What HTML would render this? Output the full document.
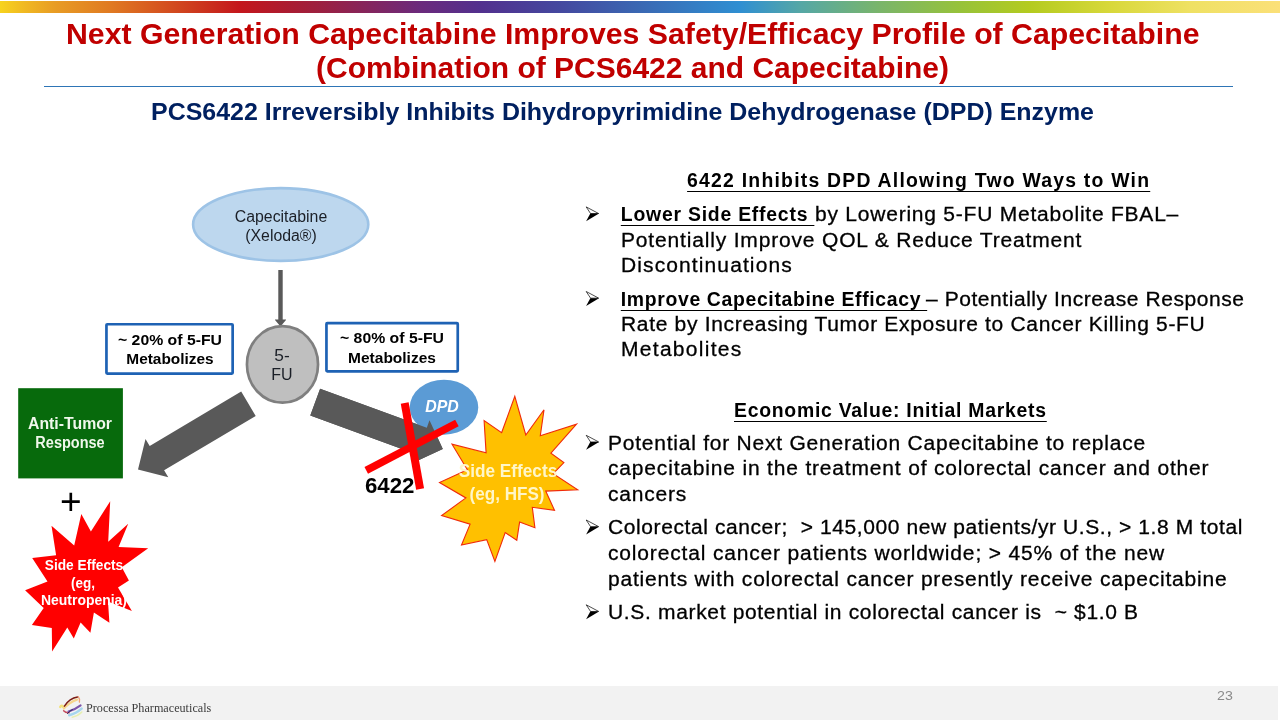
<!DOCTYPE html>
<html lang="en"><head><meta charset="utf-8"><title>Next Generation Capecitabine</title>
<style>
html,body{margin:0;padding:0;background:#fff;}
body{width:1280px;height:720px;position:relative;overflow:hidden;font-family:"Liberation Sans",sans-serif;}
.bar{position:absolute;left:0;top:0.5px;width:1280px;height:12.6px;background:linear-gradient(90deg,#f7d31e 0px,#f0b822 25px,#e89c24 55px,#e07a22 110px,#d85c20 150px,#cd3a1e 195px,#c4161c 240px,#aa1c32 290px,#9c2040 320px,#6b2a7c 420px,#52308e 480px,#44489f 560px,#3a68b3 640px,#2f8fd2 740px,#55a7a6 800px,#7ab56a 880px,#97c23a 960px,#b4cb1f 1030px,#d8d83a 1110px,#efe163 1190px,#fbe079 1280px);}
.rule{position:absolute;left:44px;top:85.6px;width:1189px;height:1.3px;background:#2e75b6;}
.t{position:absolute;white-space:nowrap;line-height:1;transform-origin:0 0;margin:0;}
.u{text-decoration:underline;text-decoration-thickness:1.3px;text-underline-offset:4.0px;text-decoration-skip-ink:none;}
.foot{position:absolute;left:0;top:686px;width:1278px;height:34px;background:#f2f2f2;}
svg{position:absolute;left:0;top:0;}
</style></head><body>
<div class="bar"></div>
<div class="rule"></div>
<div class="foot"></div>

<svg width="1280" height="720" viewBox="0 0 1280 720">
<ellipse cx="280.7" cy="224.5" rx="87.6" ry="36.4" fill="#bdd7ee" stroke="#9dc3e6" stroke-width="2.6"/>
<path d="M278.3 270H282.7V319.5H286V320L280.5 326.5L275 320V319.5H278.3Z" fill="#595959"/>
<polygon points="241.2,391.5 149.7,446.0 145.5,439.0 138.0,469.4 168.3,477.3 164.1,470.3 255.7,415.9" fill="#595959"/>
<polygon points="310.3,415.5 416.9,454.6 414.2,462.2 442.8,448.9 429.5,420.3 426.8,427.8 320.1,388.7" fill="#595959"/>
<ellipse cx="282.5" cy="364.4" rx="35.55" ry="38.3" fill="#bfbfbf" stroke="#7f7f7f" stroke-width="2.7"/>
<rect x="106.45" y="324.25" width="126.2" height="49.3" rx="0.8" fill="#fff" stroke="#1e62b4" stroke-width="2.7"/>
<rect x="326.45" y="323.15" width="131.3" height="48.25" rx="0.8" fill="#fff" stroke="#1e62b4" stroke-width="2.7"/>
<rect x="18.2" y="388.2" width="104.7" height="90.2" fill="#076a0c"/>
<ellipse cx="444" cy="407.2" rx="34.25" ry="27.45" fill="#5b9bd5"/>
<polygon points="310.3,415.5 416.9,454.6 414.2,462.2 442.8,448.9 429.5,420.3 426.8,427.8 320.1,388.7" fill="#595959"/>
<polygon points="501.6,432.7 514.8,396.4 525.8,435.0 544.0,409.8 540.3,435.7 576.5,424.2 550.9,453.1 563.9,462.6 553.2,473.7 577.7,489.7 545.7,491.1 554.5,510.3 532.3,507.3 534.9,527.7 519.6,522.1 516.8,540.3 505.2,532.5 494.9,561.5 486.7,539.6 461.5,545.1 470.1,524.2 441.6,515.6 465.9,497.9 439.5,482.5 467.4,469.8 452.0,444.2 486.1,452.9 484.1,420.6" fill="#ffc000" stroke="#f02a0a" stroke-width="1.1" stroke-linejoin="miter"/>
<polygon points="90.9,531.4 110.2,501.3 108.2,541.7 128.2,523.8 118.6,547.1 148.2,548.3 121.8,567.2 128.9,580.5 118.0,587.5 131.9,610.9 108.0,601.6 109.4,622.8 93.9,612.5 90.4,632.8 80.6,622.4 73.8,638.6 67.3,627.4 52.1,651.5 51.8,628.0 31.9,624.9 43.7,607.9 25.1,590.2 47.5,581.5 32.2,558.1 56.1,555.2 51.5,525.8 74.2,545.4 81.3,514.1" fill="#ff0000"/>
<line x1="366.25" y1="470.3" x2="456.9" y2="423" stroke="#ff0000" stroke-width="7.6"/>
<line x1="404.7" y1="403" x2="420.1" y2="489" stroke="#ff0000" stroke-width="8"/>
<path d="M586.2 206.9L598.6 213.5L590.6 213.6Z" fill="#fff" stroke="#000" stroke-width="0.7" stroke-linejoin="miter"/><path d="M590.3 213.6L599 213.6L586.1 221.3Z" fill="#000"/>
<path d="M586.2 291.5L598.6 298.1L590.6 298.2Z" fill="#fff" stroke="#000" stroke-width="0.7" stroke-linejoin="miter"/><path d="M590.3 298.2L599 298.2L586.1 305.9Z" fill="#000"/>
<path d="M586.2 435.3L598.6 441.9L590.6 442.0Z" fill="#fff" stroke="#000" stroke-width="0.7" stroke-linejoin="miter"/><path d="M590.3 442.0L599 442.0L586.1 449.7Z" fill="#000"/>
<path d="M586.2 520.0L598.6 526.6L590.6 526.7Z" fill="#fff" stroke="#000" stroke-width="0.7" stroke-linejoin="miter"/><path d="M590.3 526.7L599 526.7L586.1 534.4Z" fill="#000"/>
<path d="M586.2 604.8L598.6 611.4L590.6 611.5Z" fill="#fff" stroke="#000" stroke-width="0.7" stroke-linejoin="miter"/><path d="M590.3 611.5L599 611.5L586.1 619.2Z" fill="#000"/>
<defs><filter id="lb" x="-20%" y="-20%" width="140%" height="140%"><feGaussianBlur stdDeviation="0.45"/></filter></defs>
<g fill="none" stroke-linecap="round" filter="url(#lb)">
<path d="M60.3 706.8Q61.5 704.8 63 706.6" stroke="#f3e27c" stroke-width="2.6"/>
<path d="M63.8 708.6Q69 702.5 77 699.6" stroke="#f7d58c" stroke-width="2.2"/>
<path d="M64.4 706.2Q69.5 698.2 77.6 697" stroke="#7c1c16" stroke-width="1.5"/>
<path d="M78.3 696.8Q80 698.5 79.4 702.2" stroke="#f0a276" stroke-width="1.3"/>
<path d="M63.6 710.8Q65.5 713 69.3 712.8" stroke="#c34a5c" stroke-width="1.4"/>
<path d="M68.5 711.6Q75 709.6 80.6 705.4" stroke="#7d55ab" stroke-width="2.1"/>
<path d="M67.4 713.6Q69.5 711 72.3 709.6" stroke="#2c2c62" stroke-width="1"/>
<path d="M69.2 715.2Q76 713.6 81.6 708.6" stroke="#a6d6ef" stroke-width="2.6"/>
<path d="M72.2 717.2Q78 716 81.8 712" stroke="#e6efb2" stroke-width="1.6"/>
</g>
</svg>
<div class="t" id="t1" style="left:66.00px;top:18.61px;font-size:30.00px;font-weight:700;color:#c00000;transform:scaleX(1.0087);">Next Generation Capecitabine Improves Safety/Efficacy Profile of Capecitabine</div>
<div class="t" id="t2" style="left:316.00px;top:52.81px;font-size:30.00px;font-weight:700;color:#c00000;transform:scaleX(0.9993);">(Combination of PCS6422 and Capecitabine)</div>
<div class="t" id="sub" style="left:151.00px;top:99.56px;font-size:24.50px;font-weight:700;color:#002060;transform:scaleX(1.0185);">PCS6422 Irreversibly Inhibits Dihydropyrimidine Dehydrogenase (DPD) Enzyme</div>
<div class="t" id="h1" style="left:687.10px;top:170.68px;font-size:19.40px;font-weight:700;color:#000;letter-spacing:1.224px;"><span class="u">6422 Inhibits DPD Allowing Two Ways to Win</span></div>
<div class="t" id="a1b" style="left:620.80px;top:204.88px;font-size:19.40px;font-weight:700;color:#000;letter-spacing:0.774px;"><span class="u">Lower Side Effects&nbsp;</span></div>
<div class="t" id="a1" style="left:814.70px;top:204.37px;font-size:20.00px;font-weight:400;color:#000;transform:scaleX(1.0500);letter-spacing:0.738px;-webkit-text-stroke:0.3px #000;">by Lowering 5-FU Metabolite FBAL–</div>
<div class="t" id="a2" style="left:620.60px;top:229.67px;font-size:20.00px;font-weight:400;color:#000;transform:scaleX(1.0500);letter-spacing:0.789px;-webkit-text-stroke:0.3px #000;">Potentially Improve QOL &amp; Reduce Treatment</div>
<div class="t" id="a3" style="left:620.60px;top:255.07px;font-size:20.00px;font-weight:400;color:#000;transform:scaleX(1.0500);letter-spacing:1.055px;-webkit-text-stroke:0.3px #000;">Discontinuations</div>
<div class="t" id="b1b" style="left:620.80px;top:290.48px;font-size:19.40px;font-weight:700;color:#000;letter-spacing:0.657px;"><span class="u">Improve Capecitabine Efficacy&nbsp;</span></div>
<div class="t" id="b1" style="left:926.30px;top:288.97px;font-size:20.00px;font-weight:400;color:#000;transform:scaleX(1.0500);letter-spacing:0.531px;-webkit-text-stroke:0.3px #000;">– Potentially Increase Response</div>
<div class="t" id="b2" style="left:620.60px;top:314.27px;font-size:20.00px;font-weight:400;color:#000;transform:scaleX(1.0500);letter-spacing:0.650px;-webkit-text-stroke:0.3px #000;">Rate by Increasing Tumor Exposure to Cancer Killing 5-FU</div>
<div class="t" id="b3" style="left:620.60px;top:339.37px;font-size:20.00px;font-weight:400;color:#000;transform:scaleX(1.0500);letter-spacing:1.229px;-webkit-text-stroke:0.3px #000;">Metabolites</div>
<div class="t" id="h2" style="left:734.00px;top:400.98px;font-size:19.40px;font-weight:700;color:#000;letter-spacing:0.738px;"><span class="u">Economic Value: Initial Markets</span></div>
<div class="t" id="c1" style="left:608.30px;top:432.77px;font-size:20.00px;font-weight:400;color:#000;transform:scaleX(1.0500);letter-spacing:0.729px;-webkit-text-stroke:0.3px #000;">Potential for Next Generation Capecitabine to replace</div>
<div class="t" id="c2" style="left:608.30px;top:458.47px;font-size:20.00px;font-weight:400;color:#000;transform:scaleX(1.0500);letter-spacing:0.782px;-webkit-text-stroke:0.3px #000;">capecitabine in the treatment of colorectal cancer and other</div>
<div class="t" id="c3" style="left:608.30px;top:484.17px;font-size:20.00px;font-weight:400;color:#000;transform:scaleX(1.0500);letter-spacing:0.741px;-webkit-text-stroke:0.3px #000;">cancers</div>
<div class="t" id="d1" style="left:608.30px;top:517.47px;font-size:20.00px;font-weight:400;color:#000;transform:scaleX(1.0500);letter-spacing:0.563px;-webkit-text-stroke:0.3px #000;">Colorectal cancer;&nbsp; &gt; 145,000 new patients/yr U.S., &gt; 1.8 M total</div>
<div class="t" id="d2" style="left:608.30px;top:543.17px;font-size:20.00px;font-weight:400;color:#000;transform:scaleX(1.0500);letter-spacing:0.795px;-webkit-text-stroke:0.3px #000;">colorectal cancer patients worldwide; &gt; 45% of the new</div>
<div class="t" id="d3" style="left:608.30px;top:569.27px;font-size:20.00px;font-weight:400;color:#000;transform:scaleX(1.0500);letter-spacing:0.766px;-webkit-text-stroke:0.3px #000;">patients with colorectal cancer presently receive capecitabine</div>
<div class="t" id="e1" style="left:608.30px;top:602.27px;font-size:20.00px;font-weight:400;color:#000;transform:scaleX(1.0500);letter-spacing:0.631px;-webkit-text-stroke:0.3px #000;">U.S. market potential in colorectal cancer is&nbsp; ~ $1.0 B</div>
<div class="t" id="cap1" style="left:280.80px;top:208.76px;font-size:16.00px;font-weight:400;color:#1b1f27;transform-origin:50% 0;transform:translateX(-50%) scaleX(0.9903);">Capecitabine</div>
<div class="t" id="cap2" style="left:280.80px;top:227.96px;font-size:16.00px;font-weight:400;color:#1b1f27;transform-origin:50% 0;transform:translateX(-50%) scaleX(0.9894);">(Xeloda®)</div>
<div class="t" id="fu1" style="left:282.30px;top:348.01px;font-size:15.70px;font-weight:400;color:#1b1f27;transform-origin:50% 0;transform:translateX(-50%) scaleX(1.1037);">5-</div>
<div class="t" id="fu2" style="left:282.10px;top:367.21px;font-size:15.70px;font-weight:400;color:#1b1f27;transform-origin:50% 0;transform:translateX(-50%) scaleX(1.0181);">FU</div>
<div class="t" id="l1" style="left:169.85px;top:331.85px;font-size:15.30px;font-weight:700;color:#000;transform-origin:50% 0;transform:translateX(-50%) scaleX(1.0324);">~ 20% of 5-FU</div>
<div class="t" id="l2" style="left:170.00px;top:351.05px;font-size:15.30px;font-weight:700;color:#000;transform-origin:50% 0;transform:translateX(-50%) scaleX(1.0080);">Metabolizes</div>
<div class="t" id="r1" style="left:391.90px;top:330.25px;font-size:15.30px;font-weight:700;color:#000;transform-origin:50% 0;transform:translateX(-50%) scaleX(1.0324);">~ 80% of 5-FU</div>
<div class="t" id="r2" style="left:391.90px;top:349.65px;font-size:15.30px;font-weight:700;color:#000;transform-origin:50% 0;transform:translateX(-50%) scaleX(1.0127);">Metabolizes</div>
<div class="t" id="g1" style="left:70.00px;top:416.06px;font-size:16.00px;font-weight:700;color:#f0f8ec;transform-origin:50% 0;transform:translateX(-50%) scaleX(0.9881);">Anti-Tumor</div>
<div class="t" id="g2" style="left:70.30px;top:435.36px;font-size:16.00px;font-weight:700;color:#f0f8ec;transform-origin:50% 0;transform:translateX(-50%) scaleX(0.9063);">Response</div>
<div class="t" id="plus" style="left:70.70px;top:483.48px;font-size:37.00px;font-weight:400;color:#000;transform:translateX(-50%);">+</div>
<div class="t" id="dpd" style="left:442.00px;top:398.03px;font-size:16.50px;font-weight:700;color:#fff;font-style:italic;transform-origin:50% 0;transform:translateX(-50%) scaleX(0.9614);">DPD</div>
<div class="t" id="n6422" style="left:365.30px;top:474.85px;font-size:21.20px;font-weight:700;color:#000;transform:scaleX(1.0500);">6422</div>
<div class="t" id="y1" style="left:507.50px;top:461.66px;font-size:18.00px;font-weight:700;color:#fff6c8;transform-origin:50% 0;transform:translateX(-50%) scaleX(0.9559);">Side Effects</div>
<div class="t" id="y2" style="left:506.50px;top:484.56px;font-size:18.00px;font-weight:700;color:#fff6c8;transform-origin:50% 0;transform:translateX(-50%) scaleX(0.9494);">(eg, HFS)</div>
<div class="t" id="s1" style="left:83.75px;top:557.73px;font-size:14.50px;font-weight:700;color:#fff;transform-origin:50% 0;transform:translateX(-50%) scaleX(0.9458);">Side Effects</div>
<div class="t" id="s2" style="left:83.30px;top:575.83px;font-size:14.50px;font-weight:700;color:#fff;transform-origin:50% 0;transform:translateX(-50%) scaleX(0.9309);">(eg,</div>
<div class="t" id="s3" style="left:83.50px;top:593.13px;font-size:14.50px;font-weight:700;color:#fff;transform-origin:50% 0;transform:translateX(-50%) scaleX(0.9617);">Neutropenia)</div>
<div class="t" id="logo" style="left:86.20px;top:703.40px;font-size:11.70px;font-weight:400;color:#3c3c3c;font-family:'Liberation Serif', serif;transform:scaleX(1.0406);">Processa Pharmaceuticals</div>
<div class="t" id="pg" style="left:1216.90px;top:688.66px;font-size:13.40px;font-weight:400;color:#8a8a8a;transform:scaleX(1.0600);">23</div>
</body></html>
